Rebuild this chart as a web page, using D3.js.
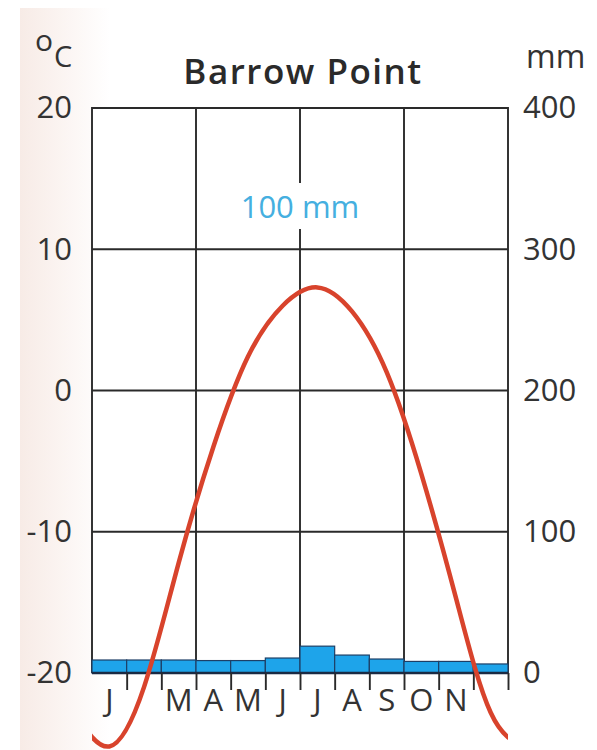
<!DOCTYPE html>
<html>
<head>
<meta charset="utf-8">
<script src="https://cdn.jsdelivr.net/npm/d3@7"></script>
<style>
  html, body { margin: 0; padding: 0; background: #fff; }
  svg { display: block; }
  text { font-family: "Open Sans", "DejaVu Sans", sans-serif; }
</style>
</head>
<body>
<div id="chart"></div>
<script>
// ---- data ----
const title = "Barrow Point";
const months = ["J","F","M","A","M","J","J","A","S","O","N","D"];
const monthLabels = ["J","","M","A","M","J","J","A","S","O","N",""];
const temperature = [-25.2, -21.0, -12.2, -4.0, 2.4, 6.0, 7.3, 5.6, 1.3, -5.9, -14.7, -22.8]; // °C
const precipitation = [9.2, 9.2, 9.2, 8.8, 8.8, 10.6, 19, 12.7, 9.9, 8.2, 8.2, 6.4]; // mm
const tempTicks = [-20, -10, 0, 10, 20];
const precTicks = [0, 100, 200, 300, 400];
const totalLabel = "100 mm";

// ---- layout ----
const W = 597, H = 750;
const L = 92, R = 508, T = 108, B = 673;

const svg = d3.select("#chart").append("svg").attr("width", W).attr("height", H);

// paper tint on left edge (scan look)
const defs = svg.append("defs");
const g1 = defs.append("linearGradient").attr("id", "paper")
  .attr("gradientUnits", "userSpaceOnUse").attr("x1", 20).attr("x2", 110).attr("y1", 0).attr("y2", 0);
g1.append("stop").attr("offset", "0").attr("stop-color", "#f7ebe6");
g1.append("stop").attr("offset", "0.6").attr("stop-color", "#fcf7f5");
g1.append("stop").attr("offset", "1").attr("stop-color", "#ffffff");
svg.append("rect").attr("width", W).attr("height", H).attr("fill", "#fff");
svg.append("rect").attr("x", 20).attr("y", 8).attr("width", W - 20).attr("height", H - 8).attr("fill", "url(#paper)");

defs.append("clipPath").attr("id", "plotclip")
  .append("rect").attr("x", L).attr("y", 0).attr("width", R - L).attr("height", H);

// scales
const x = d3.scaleLinear().domain([0, 12]).range([L, R]);
const band = d3.scaleBand().domain(d3.range(12)).range([L, R]).padding(0);
const yT = d3.scaleLinear().domain([-20, 20]).range([B, T]);
const yP = d3.scaleLinear().domain([0, 400]).range([B, T]);

const ink = "#2a2a2a";
const txt = "#333333";

// plot background white
svg.append("rect").attr("x", L).attr("y", T).attr("width", R - L).attr("height", B - T).attr("fill", "#fff");

// horizontal grid
svg.append("g").selectAll("line").data(tempTicks.filter(d => d > -20)).join("line")
  .attr("x1", L).attr("x2", R)
  .attr("y1", d => yT(d)).attr("y2", d => yT(d))
  .attr("stroke", ink).attr("stroke-width", 1.9);

// vertical grid (every 3 months + frame)
svg.append("g").selectAll("line").data([0, 3, 6, 9, 12]).join("line")
  .attr("x1", d => x(d)).attr("x2", d => x(d))
  .attr("y1", T - 1).attr("y2", B)
  .attr("stroke", ink).attr("stroke-width", 1.9);

// label for total precipitation, with white knockout
const tl = svg.append("g");
const tlText = tl.append("text")
  .attr("x", x(6)).attr("y", 218)
  .attr("text-anchor", "middle")
  .attr("font-size", 31)
  .attr("fill", "#45afe0")
  .text(totalLabel);
const bb = tlText.node().getBBox();
tl.insert("rect", "text")
  .attr("x", bb.x - 4).attr("y", bb.y - 2).attr("width", bb.width + 8).attr("height", bb.height + 4)
  .attr("fill", "#fff");

// precipitation bars
svg.append("g").selectAll("rect").data(precipitation).join("rect")
  .attr("x", (d, i) => band(i))
  .attr("width", band.bandwidth())
  .attr("y", d => yP(d))
  .attr("height", d => yP(0) - yP(d))
  .attr("fill", "#1ea4ea")
  .attr("stroke", "#1d3f66")
  .attr("stroke-width", 1.2);

// baseline
svg.append("line").attr("x1", L).attr("x2", R).attr("y1", B).attr("y2", B)
  .attr("stroke", "#1a2a44").attr("stroke-width", 2.5);

// month ticks below
const xAxis = d3.axisBottom(x).tickValues(d3.range(1, 13)).tickSize(17).tickFormat("");
const gx = svg.append("g").attr("transform", `translate(0,${B})`).call(xAxis);
gx.select(".domain").remove();
gx.selectAll(".tick line").attr("stroke", ink).attr("stroke-width", 1.9);

// month labels
const mAxis = d3.axisBottom(band).tickSize(0).tickPadding(12).tickFormat(i => monthLabels[i]);
const gm = svg.append("g").attr("transform", `translate(0,${B + 4})`).call(mAxis);
gm.select(".domain").remove();
gm.selectAll("text").attr("font-size", 31).attr("fill", txt).attr("font-family", "Open Sans");

// temperature curve (cyclic extension beyond year edges, clipped)
const ext = [{m: -1, v: temperature[11]}]
  .concat(temperature.map((v, i) => ({m: i, v})))
  .concat([{m: 12, v: temperature[0]}]);
const line = d3.line()
  .x(d => band(0) + (d.m + 0.5) * band.bandwidth())
  .y(d => yT(d.v))
  .curve(d3.curveNatural);
svg.append("path").attr("clip-path", "url(#plotclip)")
  .attr("d", line(ext))
  .attr("fill", "none")
  .attr("stroke", "#d8432c")
  .attr("stroke-width", 4.5)
  .attr("stroke-linecap", "round");

// left axis (°C)
const yAxisL = d3.axisLeft(yT).tickValues(tempTicks).tickSize(0).tickPadding(20).tickFormat(d => String(d));
const gl = svg.append("g").attr("transform", `translate(${L},0)`).call(yAxisL);
gl.select(".domain").remove();
gl.selectAll("text").attr("font-size", 31).attr("fill", txt).attr("font-family", "Open Sans");

// right axis (mm)
const yAxisR = d3.axisRight(yP).tickValues(precTicks).tickSize(0).tickPadding(15).tickFormat(d => String(d));
const gr = svg.append("g").attr("transform", `translate(${R},0)`).call(yAxisR);
gr.select(".domain").remove();
gr.selectAll("text").attr("font-size", 31).attr("fill", txt).attr("font-family", "Open Sans");

// units
const unitC = svg.append("text").attr("fill", txt);
unitC.append("tspan").attr("x", 35).attr("y", 51).attr("font-size", 30).text("o");
unitC.append("tspan").attr("x", 54).attr("y", 67).attr("font-size", 29).text("C");
svg.append("text").attr("x", 526).attr("y", 68).attr("fill", txt).attr("font-size", 32).text("mm");

// title
svg.append("text").attr("x", 303).attr("y", 84).attr("text-anchor", "middle")
  .attr("font-size", 35).attr("font-weight", 600).attr("letter-spacing", 1.5)
  .attr("fill", ink).text(title);
</script>
</body>
</html>
